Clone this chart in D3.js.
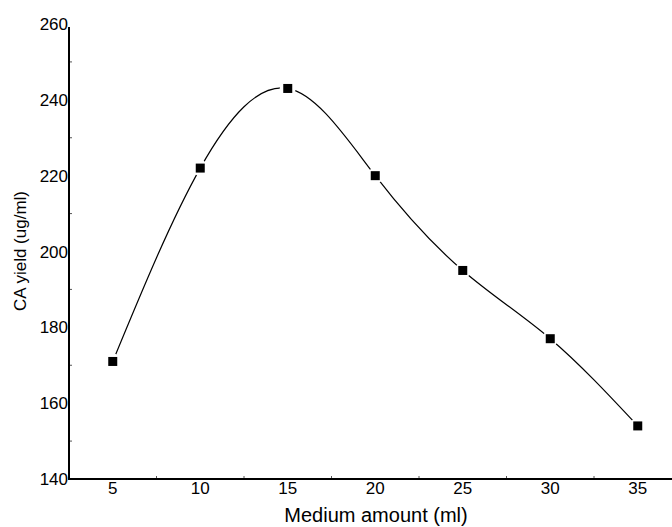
<!DOCTYPE html>
<html>
<head>
<meta charset="utf-8">
<script src="https://cdn.jsdelivr.net/npm/d3@7"></script>
<style>
  body { margin: 0; background: #fff; }
  svg { display: block; font-family: "Liberation Sans", Arial, sans-serif; }
</style>
</head>
<body>
<svg id="chart" width="672" height="527"></svg>
<script>
// medium amount (ml) vs CA yield (ug/ml)
const medium = [5, 10, 15, 20, 25, 30, 35];
const yieldCA = [171, 222, 243, 220, 195, 177, 154];
const xTicks = [5, 10, 15, 20, 25, 30, 35];
const yTicks = [140, 160, 180, 200, 220, 240, 260];

const width = 672, height = 527;
const margin = {top: 24, right: 0, bottom: 48, left: 69};

const svg = d3.select("#chart");

const x = d3.scaleLinear()
    .domain([2.5, 37.5])
    .range([margin.left, margin.left + 35 * 17.5]);

const y = d3.scaleLinear()
    .domain([140, 260])
    .range([height - margin.bottom, margin.top]);

const data = medium.map((m, i) => ({m, v: yieldCA[i]}));

// minor ticks, pointing inward
const xMinor = d3.range(7.5, 37.5, 5);
const yMinor = d3.range(150, 260, 20);

svg.append("g")
    .selectAll("line")
    .data(xMinor)
    .join("line")
      .attr("x1", d => x(d)).attr("x2", d => x(d))
      .attr("y1", y(140)).attr("y2", y(140) - 3)
      .attr("stroke", "#555");

svg.append("g")
    .selectAll("line")
    .data(yMinor)
    .join("line")
      .attr("x1", x(2.5)).attr("x2", x(2.5) + 3)
      .attr("y1", d => y(d)).attr("y2", d => y(d))
      .attr("stroke", "#555");

// axis lines
svg.append("line")
    .attr("x1", x(2.5)).attr("x2", width)
    .attr("y1", y(140)).attr("y2", y(140))
    .attr("stroke", "#000").attr("stroke-width", 2);

svg.append("line")
    .attr("x1", x(2.5)).attr("x2", x(2.5))
    .attr("y1", y(260) + 3).attr("y2", y(140) + 1)
    .attr("stroke", "#000").attr("stroke-width", 2);

// tick labels
svg.append("g")
    .selectAll("text")
    .data(xTicks)
    .join("text")
      .attr("x", d => x(d))
      .attr("y", y(140) + 15)
      .attr("text-anchor", "middle")
      .attr("font-size", 17)
      .text(d => d);

svg.append("g")
    .selectAll("text")
    .data(yTicks)
    .join("text")
      .attr("x", x(2.5) - 1)
      .attr("y", d => y(d))
      .attr("dy", "0.36em")
      .attr("text-anchor", "end")
      .attr("font-size", 17)
      .text(d => d);

// axis titles
svg.append("text")
    .attr("x", 376)
    .attr("y", 522)
    .attr("text-anchor", "middle")
    .attr("font-size", 20)
    .text("Medium amount (ml)");

svg.append("text")
    .attr("transform", `translate(26,251) rotate(-90)`)
    .attr("text-anchor", "middle")
    .attr("font-size", 17)
    .text("CA yield (ug/ml)");

// gaps in the curve around each marker
const mask = svg.append("defs").append("mask").attr("id", "gaps");
mask.append("rect").attr("width", width).attr("height", height).attr("fill", "#fff");
mask.selectAll("circle")
  .data(data)
  .join("circle")
    .attr("cx", d => x(d.m))
    .attr("cy", d => y(d.v))
    .attr("r", 8)
    .attr("fill", "#000");

const line = d3.line()
    .curve(d3.curveNatural)
    .x(d => x(d.m))
    .y(d => y(d.v));

svg.append("path")
    .datum(data)
    .attr("fill", "none")
    .attr("stroke", "#000")
    .attr("stroke-width", 1.2)
    .attr("mask", "url(#gaps)")
    .attr("d", line);

svg.append("g")
    .selectAll("rect")
    .data(data)
    .join("rect")
      .attr("x", d => x(d.m) - 4.5)
      .attr("y", d => y(d.v) - 4.5)
      .attr("width", 9)
      .attr("height", 9)
      .attr("fill", "#000");
</script>
</body>
</html>
